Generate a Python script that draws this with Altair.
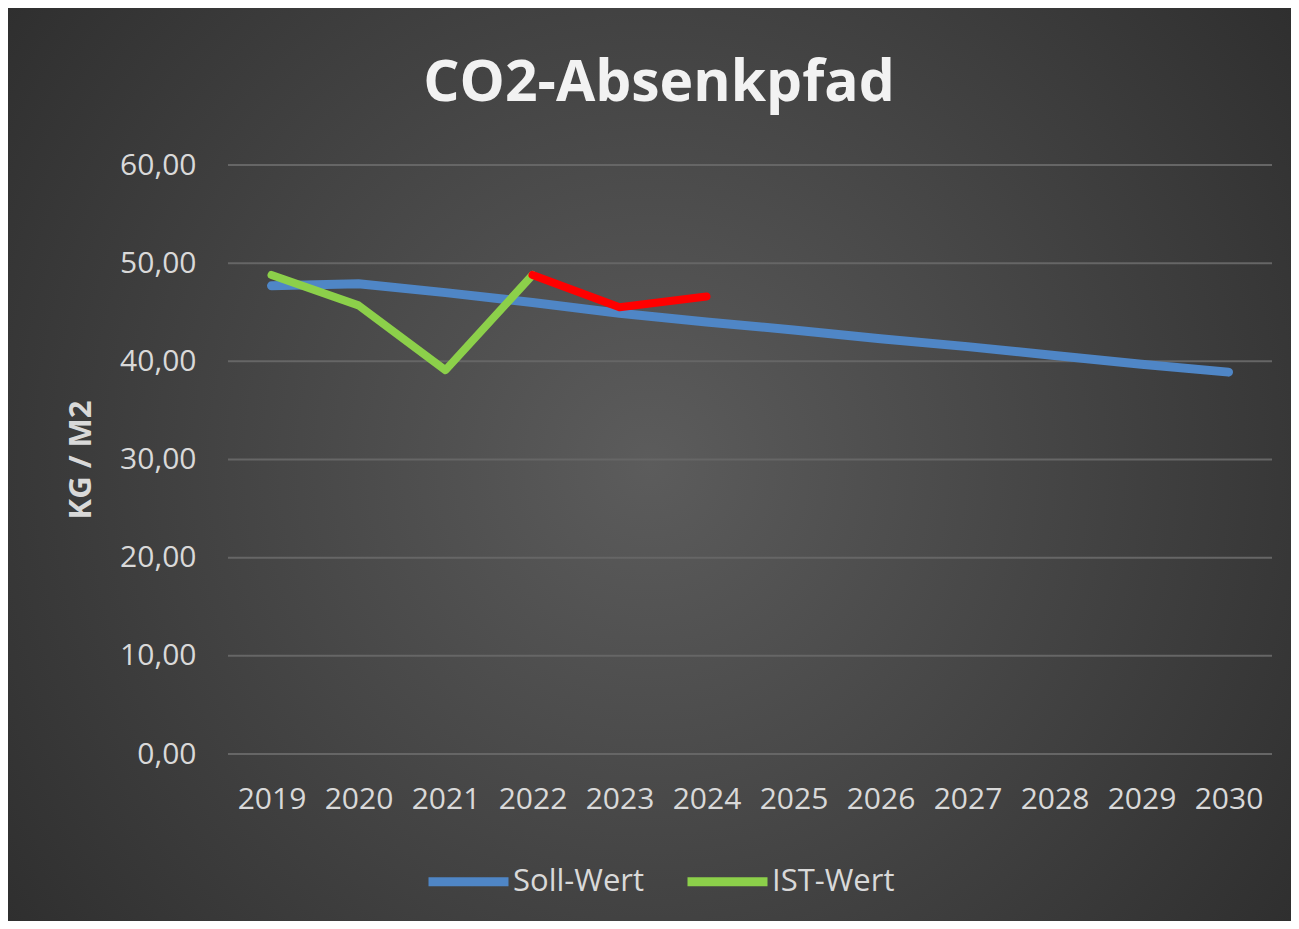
import altair as alt
import pandas as pd

years = ["2019", "2020", "2021", "2022", "2023", "2024", "2025", "2026", "2027", "2028", "2029", "2030"]
soll_wert = [47.7, 47.9, 47.0, 46.0, 44.9, 44.0, 43.2, 42.3, 41.5, 40.6, 39.7, 38.9]
ist_years = ["2019", "2020", "2021", "2022"]
ist_wert = [48.8, 45.7, 39.1, 48.8]
ist_rot_years = ["2022", "2023", "2024"]
ist_rot_wert = [48.8, 45.5, 46.6]
y_ticks = [0, 10, 20, 30, 40, 50, 60]
title_text = ["CO2-Absenkpfad"]

series_names = ["Soll-Wert", "IST-Wert", "IST-Wert (ab 2022)"]
series_colors = ["#4f86c6", "#8cd04a", "#ff0000"]

soll_df = pd.DataFrame({"Jahr": years, "Wert": soll_wert, "Reihe": series_names[0]})
ist_df = pd.concat([
    pd.DataFrame({"Jahr": ist_years, "Wert": ist_wert, "Reihe": series_names[1]}),
    pd.DataFrame({"Jahr": ist_rot_years, "Wert": ist_rot_wert, "Reihe": series_names[2]}),
])

W, H = 1044, 589
PL, PT, PR, PB = 220, 157, 19, 167
FONT = "Open Sans"

color_scale = alt.Scale(domain=series_names, range=series_colors)
y_scale = alt.Scale(domain=[0, 60], nice=False)

y_axis = alt.Axis(title="KG / M2", values=y_ticks,
                  labelExpr="replace(format(datum.value, '.2f'), '.', ',')",
                  domain=False, ticks=False, grid=False, labelFontSize=30,
                  labelColor="#d9d9d9", labelFont=FONT, labelPadding=32,
                  titleFontSize=31, titleFont=FONT, titleFontWeight="bold",
                  titleColor="#d9d9d9", titlePadding=22, zindex=1)

x_enc = alt.X("Jahr:O", scale=alt.Scale(type="point", padding=0.5, domain=years),
              axis=alt.Axis(title=None, labelAngle=0, domain=False, ticks=False,
                            labelFontSize=30, labelColor="#d9d9d9", labelFont=FONT,
                            labelPadding=30, grid=False, zindex=1))
y_enc = alt.Y("Wert:Q", scale=y_scale, axis=y_axis)

legend = alt.Legend(title=None, orient="none", legendX=196, legendY=672, direction="horizontal",
                    values=series_names[:2], symbolType="stroke", symbolSize=6400,
                    symbolStrokeWidth=9, labelFontSize=31, labelFont=FONT, labelColor="#d9d9d9",
                    labelOffset=0, columnPadding=24, zindex=1)

bg = alt.Chart(pd.DataFrame({"a": [0]})).mark_rect(
    fill={"gradient": "radial", "x1": 0.5, "y1": 0.5, "r1": 0, "x2": 0.5, "y2": 0.5, "r2": 0.75,
          "stops": [{"offset": 0, "color": "#5c5c5c"}, {"offset": 1, "color": "#252525"}]}
).encode(x=alt.value(-PL), x2=alt.value(W + PR), y=alt.value(-PT), y2=alt.value(H + PB))

grid = alt.Chart(pd.DataFrame({"Wert": y_ticks})).mark_rule(color="#666666", strokeWidth=2).encode(
    y=alt.Y("Wert:Q", scale=y_scale, axis=y_axis))

title = alt.Chart(pd.DataFrame({"t": title_text})).mark_text(
    font=FONT, fontSize=57, fontWeight="bold", color="#f2f2f2", align="center",
    baseline="alphabetic"
).encode(text="t:N", x=alt.value(651 - PL), y=alt.value(93 - PT))

soll = alt.Chart(soll_df).mark_line(strokeWidth=9, strokeCap="round", strokeJoin="round").encode(
    x=x_enc, y=y_enc, color=alt.Color("Reihe:N", scale=color_scale, legend=legend))

ist = alt.Chart(ist_df).mark_line(strokeWidth=8, strokeCap="round", strokeJoin="round").encode(
    x=x_enc, y=y_enc, color=alt.Color("Reihe:N", scale=color_scale, legend=legend))

chart = alt.layer(bg, grid, title, soll, ist).properties(
    width=W, height=H,
    autosize=alt.AutoSizeParams(type="none"),
    padding={"left": PL, "top": PT, "right": PR, "bottom": PB},
).configure(background="#2a2a2a").configure_view(stroke=None)

chart.save("out.html", embed_options={"renderer": "svg", "actions": False})
